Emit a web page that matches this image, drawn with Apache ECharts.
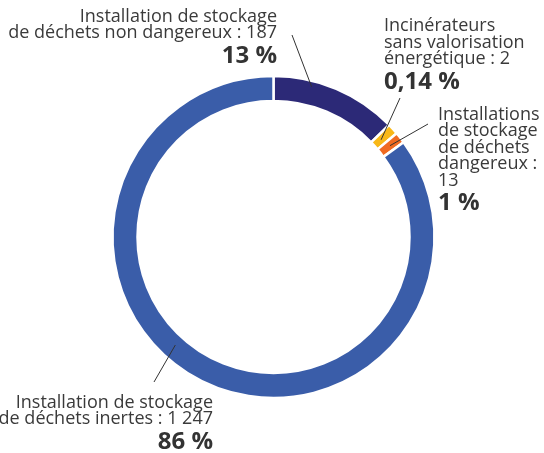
<!DOCTYPE html>
<html>
<head>
<meta charset="utf-8">
<script src="https://cdn.jsdelivr.net/npm/echarts@6/dist/echarts.min.js"></script>
<style>
  html, body { margin: 0; padding: 0; background: #ffffff; }
  #chart { width: 544px; height: 453px; }
</style>
</head>
<body>
<div id="chart"></div>
<script>
// Facility types and their counts
const categories = [
  'Installation de stockage\nde déchets non dangereux',
  'Incinérateurs\nsans valorisation\nénergétique',
  'Installations\nde stockage\nde déchets\ndangereux',
  'Installation de stockage\nde déchets inertes'
];
const values = [187, 2, 13, 1247];
const valueSeparators = [' : ', ' : ', ' :\n', ' : '];
const colors = ['#2c2977', '#f8b818', '#f06a21', '#3a5da9'];

const total = values.reduce((a, b) => a + b, 0);

function formatCount(v) {
  return String(v).replace(/\B(?=(\d{3})+(?!\d))/g, ' ');
}
function formatPercent(v) {
  const p = v / total * 100;
  const r = Math.round(p);
  return r >= 1 ? String(r) : p.toFixed(2).replace('.', ',');
}

// Where each label block sits (top edge, horizontal anchor)
const labelPlacement = [
  { x: 277, y: 8.5, align: 'right' },
  { x: 384, y: 18, align: 'left' },
  { x: 438, y: 106.5, align: 'left' },
  { x: 213, y: 394.5, align: 'right' }
];
// Leader lines: outer end next to the label, inner end on the ring
// at a fraction of the slice's sweep and a given radius
const leaderLines = [
  { from: [292, 35], t: 0.31, r: 155 },
  { from: [400, 98], t: 0.5, r: 145 },
  { from: [428, 124], t: 0.5, r: 148 },
  { from: [154, 382], t: 0.55, r: 146 }
];

const FONT = '"Open Sans", sans-serif';
const chart = echarts.init(document.getElementById('chart'), null, { renderer: 'canvas' });

chart.setOption({
  animation: false,
  backgroundColor: '#ffffff',
  series: [{
    type: 'pie',
    center: [273.5, 237],
    radius: [136, 161],
    startAngle: 90,
    clockwise: true,
    minAngle: 4,
    avoidLabelOverlap: false,
    itemStyle: { borderColor: '#ffffff', borderWidth: 2.5 },
    emphasis: { disabled: true },
    label: {
      show: true,
      position: 'outside',
      formatter: function (p) {
        const i = p.dataIndex;
        return '{t|' + categories[i] + valueSeparators[i] + formatCount(values[i]) + '}\n{b|' + formatPercent(values[i]) + ' %}';
      },
      rich: {
        t: { fontFamily: FONT, fontSize: 18, lineHeight: 16.5, color: '#3a3a3a' },
        b: { fontFamily: FONT, fontSize: 24, fontWeight: 'bold', lineHeight: 29, color: '#333333' }
      }
    },
    labelLine: { show: false },
    labelLayout: function (params) {
      const pl = labelPlacement[params.dataIndex];
      return { x: pl.x, y: pl.y, align: pl.align, verticalAlign: 'top' };
    },
    data: values.map((v, i) => ({
      name: categories[i],
      value: v,
      itemStyle: { color: colors[i] }
    }))
  }]
});

// Leader lines drawn from the computed sector geometry
const pieData = chart.getModel().getSeriesByIndex(0).getData();
const guides = leaderLines.map((l, i) => {
  const lay = pieData.getItemLayout(i);
  const a = lay.startAngle + (lay.endAngle - lay.startAngle) * l.t;
  return {
    type: 'line',
    z: 100,
    silent: true,
    shape: {
      x1: l.from[0], y1: l.from[1],
      x2: lay.cx + l.r * Math.cos(a),
      y2: lay.cy + l.r * Math.sin(a)
    },
    style: { stroke: '#333333', lineWidth: 1 }
  };
});
chart.setOption({ graphic: guides });
</script>
</body>
</html>
